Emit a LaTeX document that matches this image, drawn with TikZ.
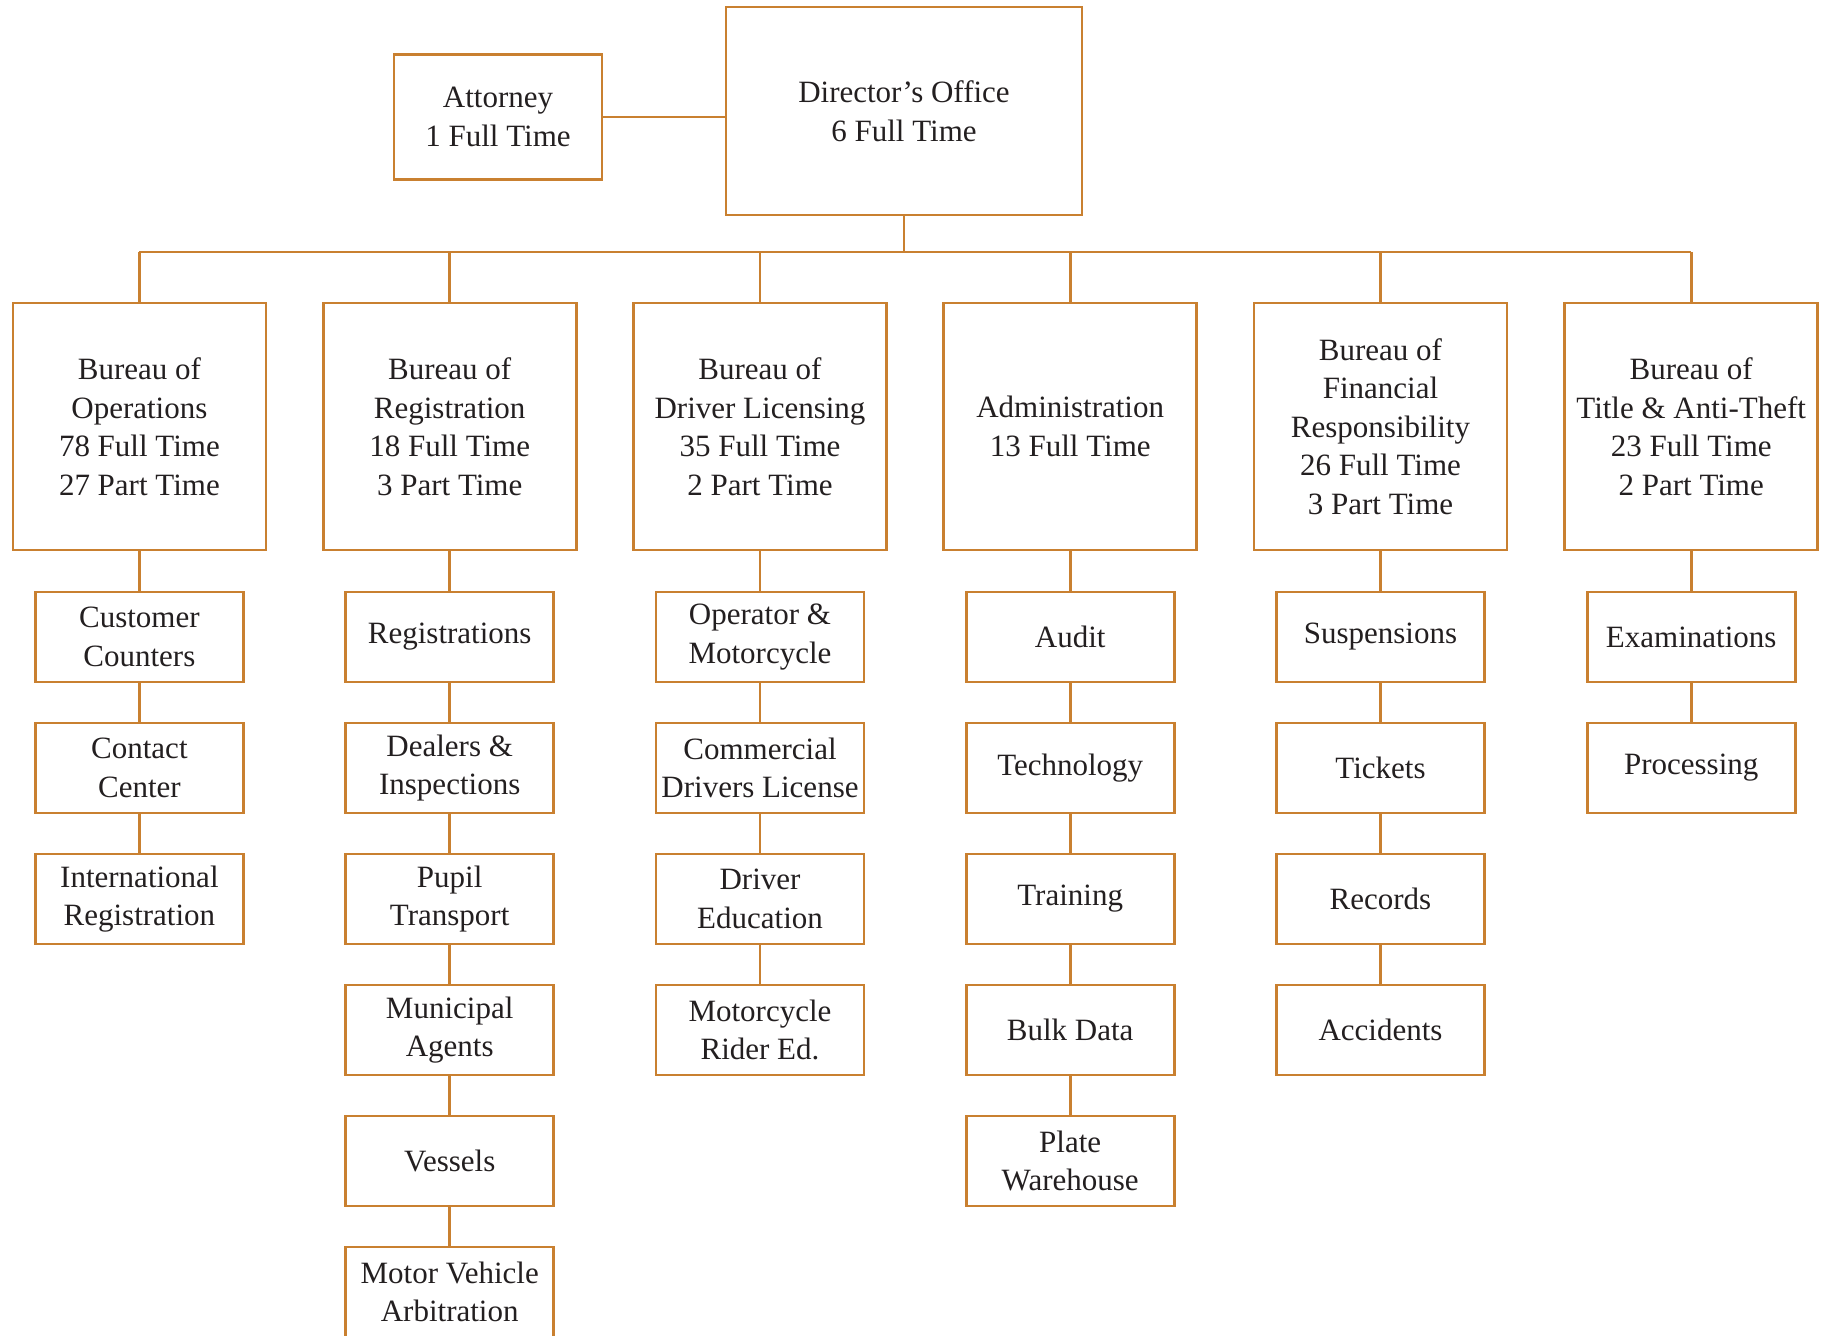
\documentclass[tikz,border=0pt]{standalone}
\usepackage{fontspec}
\setmainfont{Liberation Serif}
\definecolor{boxline}{RGB}{201,128,48}
\definecolor{ink}{RGB}{35,31,32}

\begin{document}
\begin{tikzpicture}[x=0.5pt, y=-0.5pt,
  every node/.style = {draw=boxline, line width=1.3pt, align=center,
    text=ink, inner sep=0pt, font=\fontsize{15.5}{19.25}\selectfont},
  office/.style = {minimum width=178pt, minimum height=104pt},
  lawyer/.style = {minimum width=104pt, minimum height=62.5pt},
  bureau/.style = {minimum width=126.5pt, minimum height=123.5pt},
  unit/.style = {minimum width=104pt, minimum height=45pt},
  link/.style = {draw=boxline, line width=1.3pt}]
  \useasboundingbox (0,0) rectangle (1822,1335);

  % top level
  \node[office] (dir) at (904,111) {Director's Office\\6 Full Time};
  \node[lawyer] (att) at (498,117) {Attorney\\1 Full Time};

  % bureaus
  \node[bureau] (ops) at (139.4,426.5) {Bureau of\\Operations\\78 Full Time\\27 Part Time};
  \node[bureau] (reg) at (449.7,426.5) {Bureau of\\Registration\\18 Full Time\\3 Part Time};
  \node[bureau] (lic) at (760,426.5) {Bureau of\\Driver Licensing\\35 Full Time\\2 Part Time};
  \node[bureau] (adm) at (1070.2,426.5) {Administration\\13 Full Time};
  \node[bureau] (fin) at (1380.5,426.5) {Bureau of\\Financial\\Responsibility\\26 Full Time\\3 Part Time};
  \node[bureau] (tit) at (1691.2,426.5) {Bureau of\\Title \& Anti-Theft\\23 Full Time\\2 Part Time};

  % units
  \foreach \t [count=\r] in {{Customer\\Counters},{Contact\\Center},{International\\Registration}}
    \node[unit] (ops-\r) at (139.4,{637+131*(\r-1)}) {\t};
  \foreach \t [count=\r] in {{Registrations},{Dealers \&\\Inspections},{Pupil\\Transport},
      {Municipal\\Agents},{Vessels},{Motor Vehicle\\Arbitration}}
    \node[unit] (reg-\r) at (449.7,{637+131*(\r-1)}) {\t};
  \foreach \t [count=\r] in {{Operator \&\\Motorcycle},{Commercial\\Drivers License},
      {Driver\\Education},{Motorcycle\\Rider Ed.}}
    \node[unit] (lic-\r) at (760,{637+131*(\r-1)}) {\t};
  \foreach \t [count=\r] in {{Audit},{Technology},{Training},{Bulk Data},{Plate\\Warehouse}}
    \node[unit] (adm-\r) at (1070.2,{637+131*(\r-1)}) {\t};
  \foreach \t [count=\r] in {{Suspensions},{Tickets},{Records},{Accidents}}
    \node[unit] (fin-\r) at (1380.5,{637+131*(\r-1)}) {\t};
  \foreach \t [count=\r] in {{Examinations},{Processing}}
    \node[unit] (tit-\r) at (1691.2,{637+131*(\r-1)}) {\t};

  % connectors
  \coordinate (bus) at (0,252);
  \draw[link] (att) -- (att -| dir.west);
  \draw[link] (dir.south) -- (dir.south |- bus);
  \draw[link] (ops.north |- bus) -- (tit.north |- bus);
  \foreach \b in {ops,reg,lic,adm,fin,tit}
    \draw[link] (\b.north) -- (\b.north |- bus);
  \draw[link] (ops) -- (ops-1) -- (ops-2) -- (ops-3);
  \draw[link] (reg) -- (reg-1) -- (reg-2) -- (reg-3) -- (reg-4) -- (reg-5) -- (reg-6);
  \draw[link] (lic) -- (lic-1) -- (lic-2) -- (lic-3) -- (lic-4);
  \draw[link] (adm) -- (adm-1) -- (adm-2) -- (adm-3) -- (adm-4) -- (adm-5);
  \draw[link] (fin) -- (fin-1) -- (fin-2) -- (fin-3) -- (fin-4);
  \draw[link] (tit) -- (tit-1) -- (tit-2);
\end{tikzpicture}
\end{document}
